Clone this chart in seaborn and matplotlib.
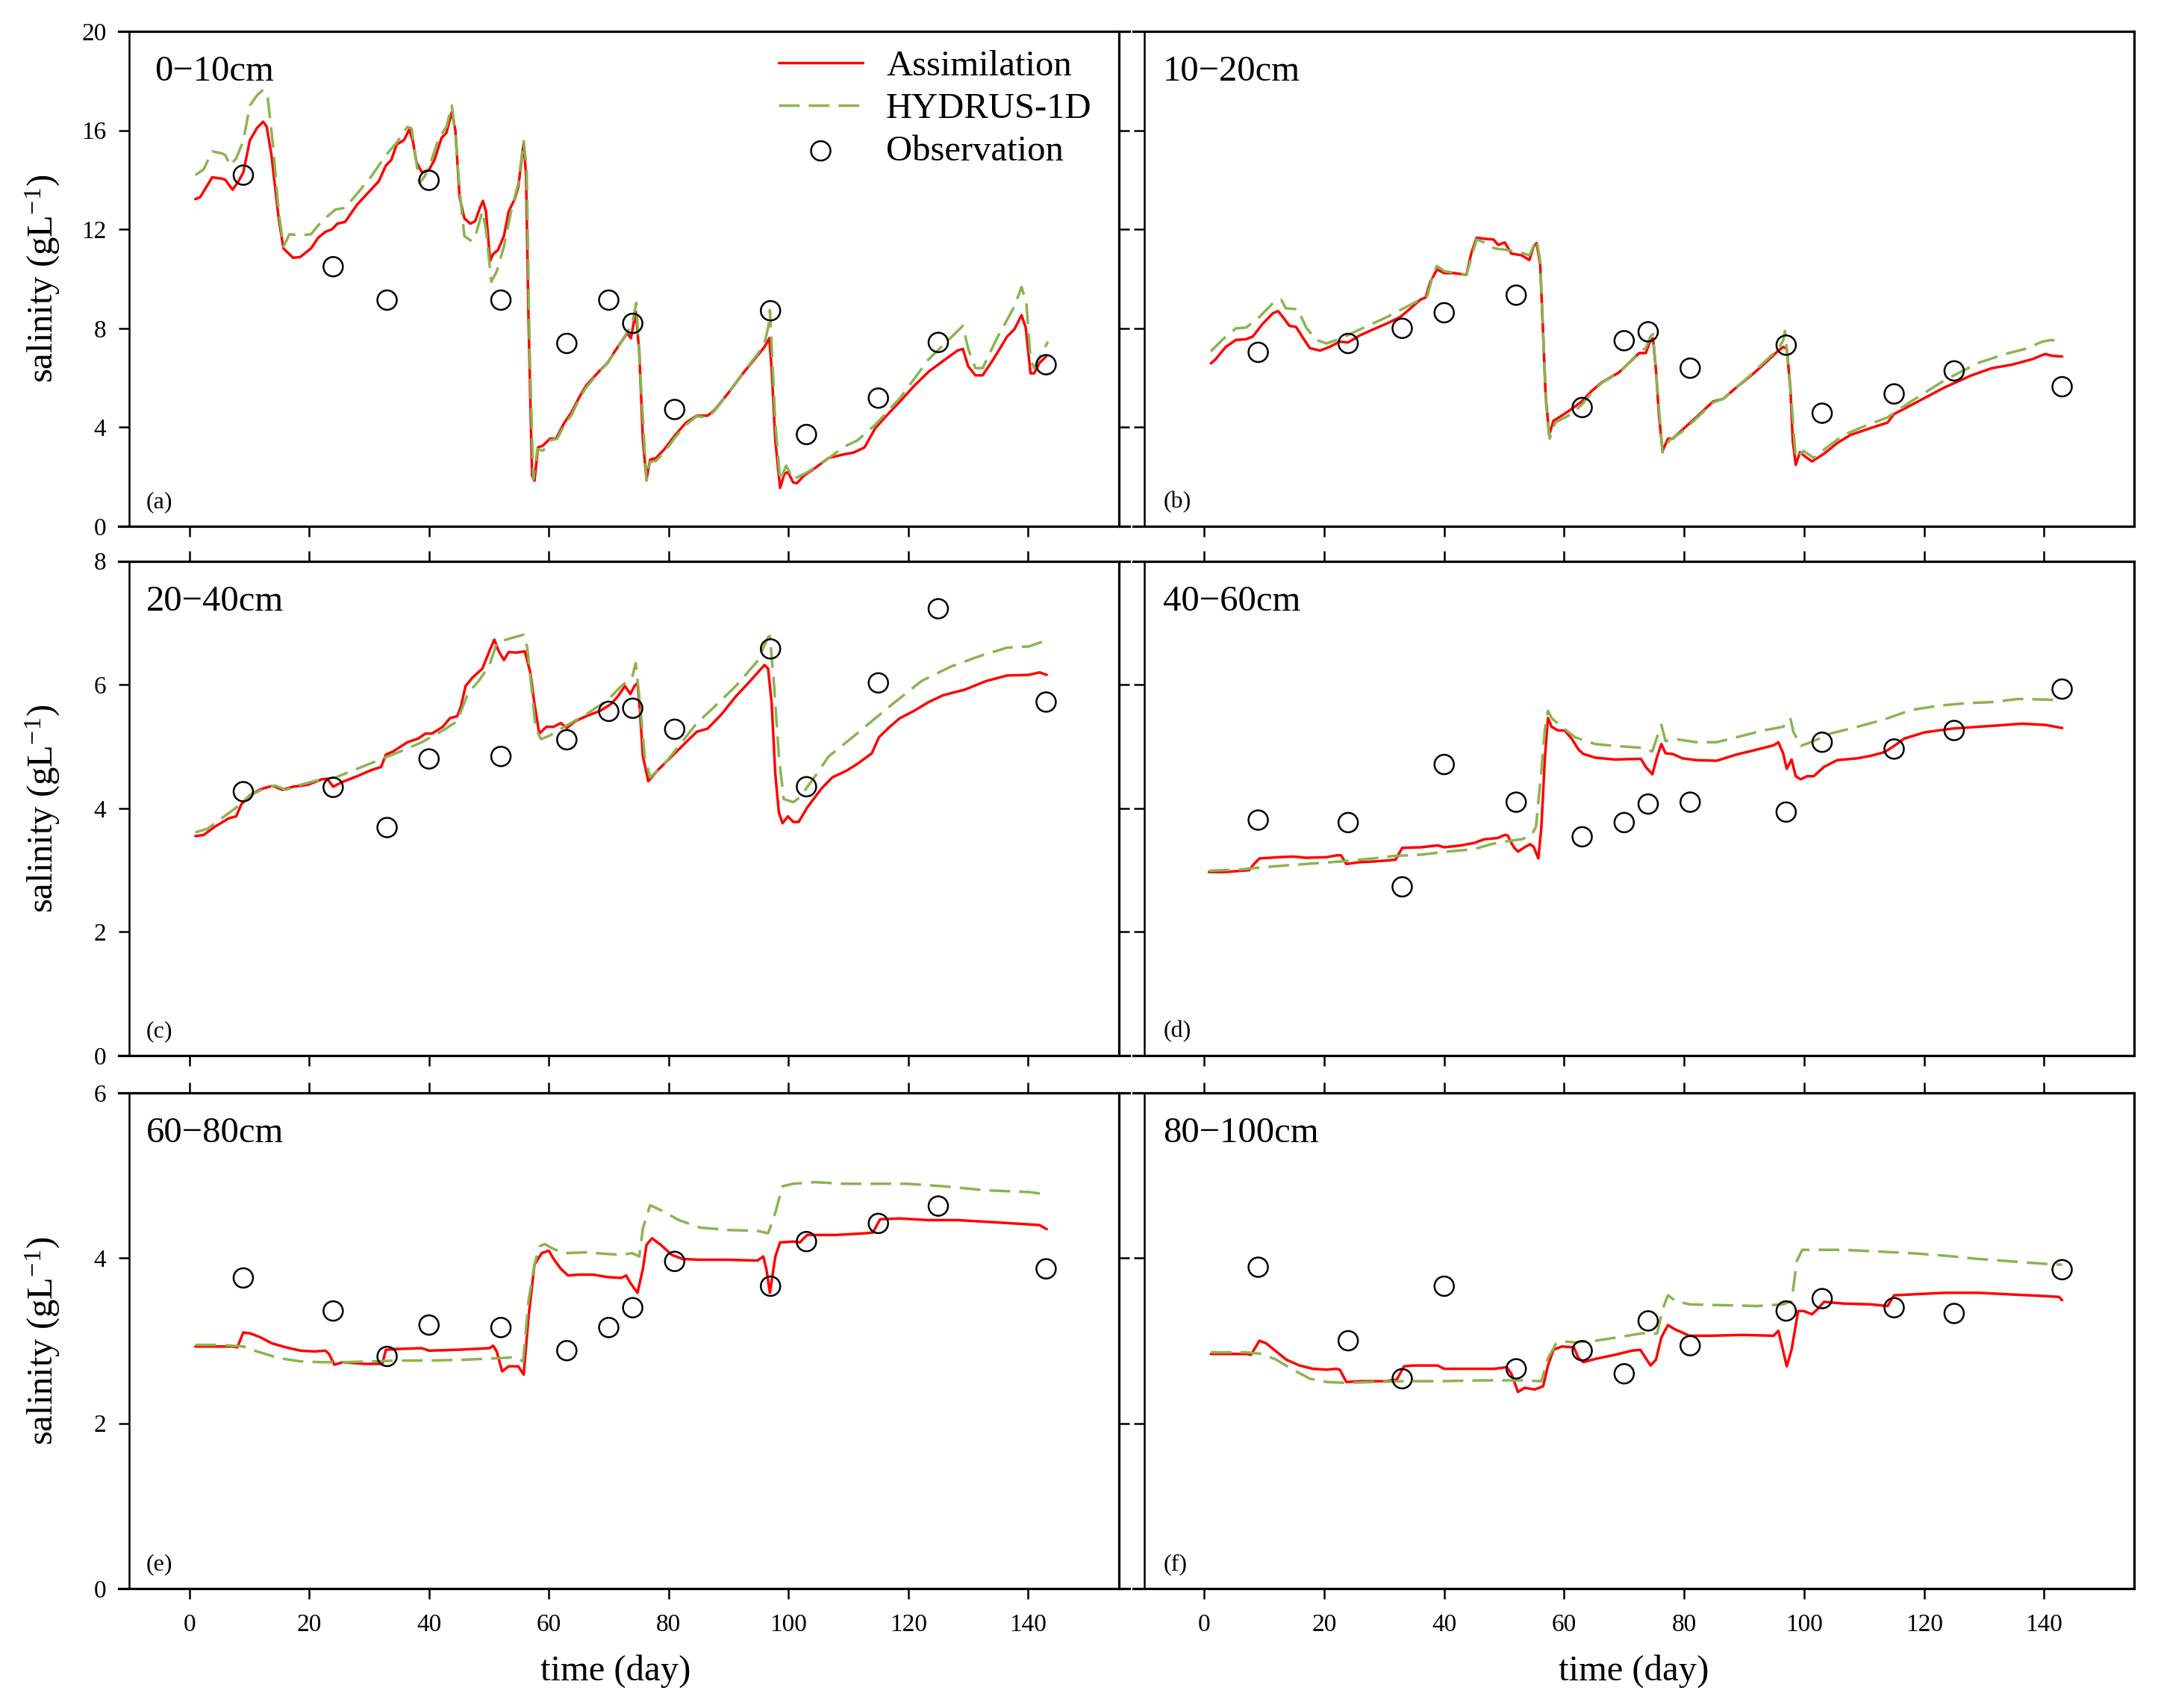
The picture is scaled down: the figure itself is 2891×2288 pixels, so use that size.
import matplotlib
matplotlib.use("Agg")
import matplotlib.pyplot as plt
import pandas as pd
import seaborn as sns

sns.set_theme(style="ticks")
plt.rcParams["font.family"] = ["Liberation Serif", "DejaVu Serif"]
plt.rcParams["mathtext.fontset"] = "custom"
plt.rcParams["mathtext.rm"] = "Liberation Serif"
plt.rcParams["mathtext.it"] = "Liberation Serif:italic"
plt.rcParams["mathtext.bf"] = "Liberation Serif:bold"
plt.rcParams["text.color"] = "black"
plt.rcParams["axes.labelcolor"] = "black"
plt.rcParams["xtick.color"] = "black"
plt.rcParams["ytick.color"] = "black"
plt.rcParams["axes.edgecolor"] = "black"

# ---------------- data ----------------
depths = ["0\u221210cm", "10\u221220cm", "20\u221240cm", "40\u221260cm", "60\u221280cm", "80\u2212100cm"]
panel_tags = ["(a)", "(b)", "(c)", "(d)", "(e)", "(f)"]
series_names = ["Assimilation", "HYDRUS-1D", "Observation"]
x_ticks = [0, 20, 40, 60, 80, 100, 120, 140]
y_ticks_rows = [[0, 4, 8, 12, 16, 20], [0, 2, 4, 6, 8], [0, 2, 4, 6]]

obs_day = [9, 24, 33, 40, 52, 63, 70, 74, 81, 97, 103, 115, 125, 143]
obs_a = [14.19, 10.49, 9.14, 13.98, 9.14, 7.39, 9.14, 8.2, 4.72, 8.71, 3.71, 5.18, 7.43, 6.53]
obs_b = [7.03, 7.39, 8.0, 8.63, 9.34, 4.8, 7.5, 7.86, 6.39, 7.32, 4.57, 5.35, 6.28, 5.64]
obs_c = [4.27, 4.34, 3.69, 4.8, 4.84, 5.11, 5.57, 5.62, 5.28, 6.58, 4.35, 6.03, 7.23, 5.72]
obs_d = [3.81, 3.77, 2.73, 4.71, 4.1, 3.54, 3.77, 4.07, 4.1, 3.94, 5.07, 4.96, 5.26, 5.93]
obs_e = [3.76, 3.36, 2.81, 3.19, 3.16, 2.88, 3.16, 3.4, 3.96, 3.66, 4.2, 4.42, 4.63, 3.87]
obs_f = [3.89, 3.0, 2.54, 3.66, 2.66, 2.88, 2.6, 3.24, 2.94, 3.36, 3.51, 3.4, 3.33, 3.86]

# (day, salinity) pairs
asm_a = [(1, 13.22), (1.8, 13.3), (3.8, 14.1), (5.4, 14.05), (6, 14.0), (7.2, 13.6), (8.1, 13.9), (9, 14.3),
         (10.1, 15.6), (11.3, 16.1), (12.3, 16.35), (12.9, 16.15), (13.7, 15.0), (14.9, 12.45), (15.7, 11.23),
         (17.3, 10.85), (18.5, 10.88), (20.3, 11.23), (21.5, 11.66), (22.7, 11.9), (23.8, 12.0), (24.7, 12.23),
         (26, 12.3), (28, 13.0), (31.6, 13.94), (32.8, 14.58), (33.7, 14.8), (34.6, 15.43), (35.8, 15.6),
         (36.7, 16.03), (37.3, 15.57), (37.9, 14.72), (38.8, 14.3), (40, 14.4), (40.9, 14.8), (42.1, 15.7),
         (42.9, 15.9), (43.8, 16.74), (44.4, 16.0), (45.1, 13.3), (45.9, 12.44), (46.9, 12.23), (47.7, 12.33),
         (48.5, 12.87), (49, 13.15), (49.5, 12.73), (50.2, 10.73), (50.7, 11.0), (51.5, 11.16), (52.5, 11.73),
         (53.3, 12.73), (54.3, 13.22), (54.9, 13.72), (55.8, 15.5), (56.2, 14.15), (56.6, 8.46), (57.2, 2.05),
         (57.6, 1.84), (58.2, 3.19), (59, 3.26), (60.2, 3.54), (61.2, 3.54), (62.6, 4.19), (63.8, 4.61),
         (65, 5.18), (66.2, 5.68), (68.6, 6.32), (69.8, 6.6), (70.9, 7.03), (72.1, 7.46), (73.1, 7.8),
         (73.7, 7.6), (74.5, 8.67), (75.1, 7.03), (75.7, 3.47), (76.3, 1.9), (76.9, 2.69), (77.9, 2.76),
         (79.3, 3.12), (81.1, 3.69), (82.9, 4.19), (84.7, 4.47), (86.5, 4.47), (87.6, 4.68), (90, 5.4),
         (92.4, 6.18), (94.8, 6.89), (96, 7.25), (96.8, 7.6), (97.2, 6.32), (97.8, 3.47), (98.6, 1.55),
         (99.3, 2.12), (99.9, 2.19), (100.8, 1.77), (101.4, 1.74), (102.6, 2.05), (104.3, 2.33), (106.7, 2.76),
         (109.1, 2.9), (110.9, 2.98), (112.7, 3.19), (114.5, 3.97), (116.9, 4.61), (118.6, 5.04), (121, 5.68),
         (123.4, 6.25), (125.8, 6.68), (128.2, 7.1), (129.1, 7.17), (130, 6.46), (131.2, 6.1), (132.4, 6.1),
         (134.2, 6.75), (136.5, 7.67), (137.7, 7.96), (138.9, 8.53), (139.6, 8.03), (140.4, 6.18), (141, 6.18),
         (141.9, 6.6), (143.1, 6.89)]
hyd_a = [(1, 14.19), (2.4, 14.43), (3.8, 15.15), (5.4, 15.07), (6, 15.0), (6.8, 14.58), (7.8, 14.86), (9, 15.57),
         (10.1, 17.0), (11.3, 17.42), (12.3, 17.64), (13.1, 17.28), (14, 15.29), (14.9, 12.73), (15.7, 11.3),
         (16.7, 11.8), (18.5, 11.76), (20.3, 11.8), (21.5, 12.16), (23.3, 12.58), (24.4, 12.8), (26, 12.87),
         (28, 13.44), (30.4, 14.15), (32.8, 15.0), (34.6, 15.5), (36.4, 16.14), (37.1, 16.07), (37.8, 14.86),
         (38.4, 13.86), (39.3, 14.15), (40.5, 14.86), (41.7, 15.72), (42.9, 16.14), (43.8, 17.0), (44.4, 15.86),
         (45.1, 13.58), (45.9, 11.73), (47.1, 11.52), (47.9, 11.87), (48.9, 12.73), (49.5, 12.0), (50.4, 9.88),
         (51.3, 10.3), (52.5, 11.3), (53.7, 12.73), (54.9, 13.86), (55.8, 15.57), (56.3, 14.43), (56.8, 7.03),
         (57.4, 1.9), (58.1, 3.12), (59, 3.05), (60.2, 3.47), (61.4, 3.54), (62.6, 4.1), (63.8, 4.5), (65, 5.1),
         (66.2, 5.6), (68.6, 6.3), (69.8, 6.6), (70.9, 7.0), (72.1, 7.45), (73.1, 7.85), (73.9, 8.17),
         (74.6, 9.03), (75.4, 5.6), (76.3, 1.84), (76.9, 2.6), (77.9, 2.65), (79.3, 3.0), (81.1, 3.6),
         (82.9, 4.1), (84.7, 4.45), (86.5, 4.4), (87.6, 4.65), (90, 5.4), (92.4, 6.2), (94.8, 6.95), (96, 7.4),
         (96.6, 8.03), (96.9, 8.74), (97.8, 4.19), (98.6, 1.84), (99.6, 2.45), (100.8, 1.9), (103.2, 2.19),
         (106.7, 2.75), (109.1, 3.19), (111.5, 3.47), (114.5, 4.11), (118.6, 5.18), (123.4, 6.75), (127, 7.6),
         (129.1, 8.1), (130, 7.17), (131.2, 6.39), (132.4, 6.39), (134.8, 7.6), (137.7, 8.88), (138.9, 9.67),
         (139.7, 9.03), (140.4, 6.75), (141, 6.39), (143.3, 7.46)]

asm_b = [(1.1, 6.58), (1.9, 6.75), (3.6, 7.25), (5.3, 7.53), (7, 7.56), (8.1, 7.67), (9.7, 8.17), (11.4, 8.6),
         (12.3, 8.7), (13.1, 8.46), (14.2, 8.1), (15.3, 8.06), (16.5, 7.6), (17.6, 7.2), (19.3, 7.1), (20.9, 7.25),
         (22.6, 7.46), (24, 7.43), (26, 7.72), (28.2, 7.96), (30.5, 8.2), (32.7, 8.46), (34.4, 8.81), (36.1, 9.17),
         (36.9, 9.24), (37.7, 9.88), (38.8, 10.38), (40, 10.23), (41.7, 10.23), (43.7, 10.16), (44.5, 11.02),
         (45.4, 11.66), (46.7, 11.62), (48.2, 11.59), (49, 11.37), (50.1, 11.47), (51.2, 11.02), (52.9, 10.95),
         (54.2, 10.76), (54.9, 11.3), (55.4, 11.44), (56, 10.59), (56.5, 7.74), (56.9, 5.32), (57.5, 3.69),
         (58.2, 4.26), (59.6, 4.47), (61.3, 4.75), (62.9, 5.04), (64.6, 5.47), (66.3, 5.82), (69.1, 6.21),
         (70.8, 6.6), (72.5, 7.0), (73.6, 7.0), (74.4, 7.53), (74.8, 7.6), (75.3, 6.32), (75.8, 4.47), (76.4, 3.05),
         (77.3, 3.54), (78.1, 3.54), (79.7, 3.9), (82, 4.4), (84.8, 5.04), (86.5, 5.15), (88.7, 5.61), (91, 6.06),
         (93.2, 6.53), (95.4, 7.03), (96.5, 7.25), (97.1, 7.17), (97.7, 5.61), (98.1, 3.47), (98.6, 2.48),
         (99.3, 3.0), (100.1, 2.83), (101.3, 2.62), (103.3, 2.93), (105.5, 3.36), (107.7, 3.69), (111.1, 3.97),
         (113.9, 4.19), (115, 4.54), (116.7, 4.75), (119.5, 5.11), (123.4, 5.61), (127.9, 6.1), (131.3, 6.39),
         (134.6, 6.53), (138, 6.75), (139.7, 6.92), (140.2, 6.96), (141.3, 6.89), (143, 6.86)]
hyd_b = [(1.1, 7.07), (3, 7.53), (5.3, 8.0), (7, 8.03), (9.2, 8.46), (11.4, 9.0), (12.8, 9.17), (13.6, 8.81),
         (15.6, 8.77), (17, 8.03), (18.7, 7.53), (20.4, 7.39), (22.6, 7.57), (26, 7.96), (30.5, 8.46), (33.8, 8.88),
         (36.1, 9.17), (37.2, 9.31), (38.3, 10.31), (38.8, 10.52), (40, 10.31), (43.7, 10.16), (45.4, 11.59),
         (46.7, 11.47), (48.4, 11.23), (50.6, 11.16), (52.9, 11.05), (54.2, 10.95), (55.4, 11.59), (56, 10.73),
         (56.5, 7.74), (57, 4.9), (57.6, 3.54), (58.5, 4.19), (60.7, 4.47), (62.9, 4.9), (64.6, 5.4), (66.3, 5.8),
         (69.1, 6.2), (70.8, 6.6), (72.5, 7.05), (73.6, 7.2), (74.4, 7.67), (74.8, 7.77), (76.4, 2.98),
         (77.5, 3.47), (79.7, 3.83), (82, 4.35), (84.8, 5.0), (86.5, 5.15), (88.7, 5.6), (91, 6.1), (93.2, 6.6),
         (95.4, 7.1), (96.5, 7.5), (96.8, 7.89), (97.7, 5.61), (98.6, 2.76), (99.9, 3.05), (101.6, 2.76),
         (103.8, 3.19), (106.6, 3.69), (110, 4.04), (113.9, 4.4), (117.8, 5.04), (123.4, 5.9), (129, 6.6),
         (133.5, 6.96), (136.9, 7.17), (139.7, 7.46), (141.3, 7.53), (142.4, 7.46)]

asm_c = [(1, 3.55), (2.4, 3.57), (4.2, 3.7), (6.6, 3.84), (7.8, 3.87), (8.7, 4.07), (10.1, 4.21), (11.9, 4.31),
         (13.7, 4.36), (14.3, 4.35), (15.5, 4.3), (17.3, 4.35), (19.7, 4.38), (22.1, 4.47), (23, 4.48), (24, 4.35),
         (25.6, 4.43), (28, 4.52), (30.4, 4.62), (32, 4.67), (32.8, 4.87), (34, 4.92), (36.4, 5.07), (38.2, 5.13),
         (39.4, 5.21), (40.5, 5.21), (42.3, 5.32), (43.5, 5.46), (44.7, 5.49), (45.3, 5.64), (46.1, 5.98),
         (47.3, 6.12), (48.9, 6.26), (50.1, 6.55), (50.9, 6.73), (51.6, 6.55), (52.5, 6.4), (53.3, 6.53),
         (54.5, 6.52), (56, 6.54), (56.9, 6.2), (57.6, 5.69), (58.4, 5.21), (59.6, 5.32), (60.8, 5.32), (62, 5.38),
         (63, 5.3), (64.4, 5.41), (66.2, 5.49), (68.6, 5.58), (70.4, 5.69), (71.5, 5.81), (72.7, 5.98), (73.6, 5.85),
         (74.3, 5.98), (74.8, 6.03), (75.2, 5.58), (75.7, 4.84), (76.6, 4.44), (78.1, 4.61), (80.5, 4.84),
         (82.9, 5.07), (84.7, 5.24), (86.5, 5.29), (88.8, 5.52), (91.2, 5.81), (93.6, 6.06), (96, 6.32),
         (96.6, 6.26), (97.2, 5.69), (97.8, 4.55), (98.4, 3.93), (99, 3.76), (99.9, 3.87), (100.8, 3.78),
         (101.7, 3.78), (103.1, 4.01), (105.5, 4.32), (107.3, 4.5), (109.7, 4.61), (111.5, 4.72), (113.9, 4.89),
         (115.1, 5.15), (116.9, 5.32), (118.6, 5.46), (121, 5.58), (123.4, 5.72), (125.8, 5.83), (129.4, 5.92),
         (133, 6.06), (136.5, 6.15), (140.1, 6.16), (141.9, 6.2), (143.1, 6.16)]
hyd_c = [(1, 3.61), (3, 3.67), (5.4, 3.84), (7.8, 4.01), (10.1, 4.21), (12.5, 4.32), (14.3, 4.37), (16.1, 4.3),
         (18.5, 4.38), (22.1, 4.47), (24.4, 4.5), (28, 4.64), (31.6, 4.78), (35.2, 4.92), (38.8, 5.07), (42.3, 5.26),
         (44.7, 5.41), (46.5, 5.86), (48.3, 6.06), (50.1, 6.32), (51.3, 6.67), (52.5, 6.72), (54.3, 6.77),
         (55.8, 6.81), (56.4, 6.6), (57.2, 5.86), (57.8, 5.29), (58.7, 5.12), (60.2, 5.18), (62.6, 5.32),
         (66.2, 5.52), (69.8, 5.75), (72.1, 5.98), (73.9, 6.12), (74.5, 6.35), (75.1, 5.81), (76, 4.84), (76.9, 4.5),
         (79.3, 4.72), (81.7, 5.01), (84.7, 5.38), (87.6, 5.64), (91.2, 5.98), (94.8, 6.38), (96.6, 6.77),
         (96.9, 6.79), (97.6, 5.98), (98.4, 4.84), (99.2, 4.15), (100.8, 4.1), (101.9, 4.18), (104.3, 4.5),
         (106.7, 4.84), (110.3, 5.12), (113.9, 5.41), (117.4, 5.69), (122.2, 6.06), (127, 6.29), (131.8, 6.46),
         (136.5, 6.6), (140.1, 6.62), (143.1, 6.72)]

asm_d = [(0.8, 2.97), (3.6, 2.97), (7.5, 3.0), (8.3, 3.1), (9.2, 3.19), (12.5, 3.21), (14.8, 3.22), (17, 3.2),
         (20.4, 3.21), (22.1, 3.24), (22.8, 3.24), (23.7, 3.1), (26, 3.13), (28.2, 3.14), (31, 3.16), (31.9, 3.17),
         (33, 3.36), (36.1, 3.37), (38.9, 3.4), (40, 3.37), (42.8, 3.4), (45, 3.44), (46.7, 3.5), (48.9, 3.52),
         (50.1, 3.57), (50.6, 3.56), (51.2, 3.44), (51.7, 3.36), (52.3, 3.3), (53.4, 3.37), (54.3, 3.42),
         (54.9, 3.38), (55.7, 3.19), (56.2, 3.7), (56.8, 4.84), (57.3, 5.46), (57.9, 5.32), (59, 5.26), (60.1, 5.26),
         (61.3, 5.12), (62.4, 4.95), (63.2, 4.88), (65.2, 4.82), (68.5, 4.79), (71.9, 4.8), (72.8, 4.8), (73.6, 4.67),
         (74.7, 4.55), (75.5, 4.84), (76.2, 5.04), (76.9, 4.89), (78.1, 4.88), (79.7, 4.81), (82, 4.78), (85.4, 4.77),
         (88.7, 4.87), (92.1, 4.95), (94.9, 5.02), (95.7, 5.07), (96.5, 4.89), (97.1, 4.64), (97.9, 4.79),
         (98.6, 4.52), (99.4, 4.47), (100.5, 4.52), (101.6, 4.52), (103.3, 4.67), (105.5, 4.78), (108.9, 4.81),
         (111.1, 4.85), (113.4, 4.91), (115, 5.01), (116.7, 5.13), (120.1, 5.23), (124.6, 5.29), (129, 5.32),
         (133.5, 5.35), (136.3, 5.37), (140.2, 5.35), (143, 5.3)]
hyd_d = [(0.8, 2.99), (5.8, 3.01), (11.4, 3.06), (17, 3.1), (22.6, 3.14), (28.2, 3.19), (31.6, 3.23), (36.1, 3.25),
         (40.5, 3.3), (45, 3.34), (47.8, 3.42), (50.6, 3.47), (52.9, 3.5), (54.5, 3.56), (55.3, 3.7), (56.2, 4.61),
         (56.8, 5.29), (57.3, 5.58), (57.9, 5.46), (59.6, 5.32), (61.8, 5.15), (65.2, 5.04), (68.5, 5.01), (73, 4.98),
         (74.7, 4.92), (75.2, 5.07), (76.2, 5.35), (76.9, 5.09), (78.6, 5.12), (82, 5.07), (85.4, 5.07),
         (88.7, 5.15), (93.2, 5.26), (96.5, 5.32), (97.7, 5.46), (98.2, 5.24), (99.4, 5.01), (101.1, 5.07),
         (104.4, 5.21), (108.9, 5.32), (113.4, 5.44), (117.8, 5.59), (122.3, 5.66), (126.8, 5.7), (131.3, 5.72),
         (135.8, 5.77), (140.2, 5.76), (143, 5.75)]

asm_e = [(1, 2.93), (7.2, 2.93), (8, 2.92), (9, 3.1), (10.1, 3.09), (11.9, 3.04), (13.7, 2.97), (16.1, 2.92),
         (18.5, 2.88), (20.9, 2.87), (22.7, 2.88), (23.3, 2.84), (24.2, 2.71), (25.6, 2.74), (29.2, 2.72),
         (32.2, 2.72), (32.8, 2.89), (34.6, 2.9), (38.8, 2.91), (40, 2.88), (44.7, 2.89), (50.1, 2.91), (50.7, 2.94),
         (51.3, 2.87), (52.2, 2.63), (53.3, 2.69), (54.9, 2.69), (55.8, 2.59), (56.6, 3.28), (57.6, 3.92),
         (58.8, 4.06), (60, 4.09), (60.8, 3.99), (62, 3.87), (63.2, 3.79), (65, 3.8), (67.4, 3.8), (69.8, 3.77),
         (72.1, 3.76), (72.9, 3.79), (73.6, 3.7), (74.8, 3.58), (75.7, 3.87), (76.3, 4.16), (77.2, 4.24),
         (78.7, 4.16), (80.5, 4.04), (82.3, 3.99), (85.2, 3.98), (90, 3.98), (94.8, 3.97), (95.8, 4.02),
         (96.3, 3.87), (96.9, 3.58), (97.8, 4.02), (98.6, 4.19), (100.8, 4.2), (101.9, 4.19), (103.1, 4.28),
         (107.9, 4.28), (112.7, 4.3), (114.1, 4.31), (115.3, 4.47), (118.6, 4.48), (123.4, 4.46), (128.2, 4.46),
         (135.3, 4.43), (141.9, 4.4), (143.1, 4.35)]
hyd_e = [(1, 2.95), (5.4, 2.95), (9, 2.93), (11.3, 2.87), (14.9, 2.79), (18.5, 2.75), (22.1, 2.74), (25.6, 2.74),
         (30.4, 2.75), (35.2, 2.76), (40, 2.76), (45.9, 2.77), (51.9, 2.79), (54.5, 2.8), (55.7, 2.75), (56.6, 3.48),
         (57.6, 3.92), (58.4, 4.14), (59.3, 4.17), (60.8, 4.11), (62.6, 4.06), (66.2, 4.07), (69.8, 4.05),
         (72.1, 4.04), (73.9, 4.06), (75.1, 4.02), (75.7, 4.36), (76.9, 4.64), (78.7, 4.58), (81.7, 4.46),
         (85.2, 4.37), (90, 4.34), (94.8, 4.33), (96.6, 4.3), (97.8, 4.55), (99, 4.87), (100.8, 4.9), (104.3, 4.92),
         (109.1, 4.9), (115, 4.9), (119.8, 4.9), (125.8, 4.87), (133, 4.82), (140.1, 4.8), (143.1, 4.77)]

asm_f = [(1.1, 2.84), (7, 2.84), (7.8, 2.83), (9.2, 3.0), (10.3, 2.97), (12, 2.87), (13.7, 2.77), (15.9, 2.7),
         (18.1, 2.66), (20.4, 2.65), (22, 2.66), (22.6, 2.65), (23.7, 2.5), (26, 2.51), (30.5, 2.51), (32.1, 2.53),
         (33.3, 2.69), (34.9, 2.7), (38.9, 2.7), (40, 2.66), (43.9, 2.66), (48.4, 2.66), (50.4, 2.68), (51.2, 2.6),
         (52.3, 2.38), (53.4, 2.43), (55.1, 2.41), (56.5, 2.45), (57.3, 2.7), (58.2, 2.89), (59.6, 2.93),
         (61.6, 2.92), (62.4, 2.79), (63.2, 2.74), (65.2, 2.78), (68.5, 2.83), (71.3, 2.88), (72.7, 2.89),
         (73.6, 2.79), (74.4, 2.7), (75.3, 2.77), (76.2, 3.04), (77.3, 3.19), (78.4, 3.14), (80.9, 3.06),
         (84.2, 3.06), (89.8, 3.07), (94.9, 3.06), (95.7, 3.12), (96.3, 2.94), (97.1, 2.69), (97.9, 2.89),
         (99, 3.36), (99.9, 3.36), (101.3, 3.32), (102.2, 3.38), (103.3, 3.47), (106.6, 3.45), (111.1, 3.44),
         (113.9, 3.42), (115, 3.55), (117.8, 3.56), (123.4, 3.58), (129, 3.58), (134.6, 3.56), (140.2, 3.54),
         (142.5, 3.53), (143, 3.49)]
hyd_f = [(1.1, 2.86), (7, 2.86), (9.7, 2.84), (12, 2.77), (14.8, 2.65), (17.6, 2.54), (20.4, 2.5), (23.7, 2.49),
         (28.2, 2.5), (33.8, 2.51), (39.4, 2.51), (46.1, 2.52), (52.9, 2.52), (56.2, 2.51), (57.3, 2.79),
         (58.7, 2.97), (60.1, 2.99), (61.8, 2.98), (65.2, 3.0), (69.7, 3.05), (73, 3.09), (74.7, 3.08), (75.5, 3.09),
         (76.4, 3.38), (77.3, 3.55), (78.6, 3.48), (80.9, 3.44), (86.5, 3.43), (92.1, 3.42), (96.5, 3.44),
         (97.9, 3.48), (98.8, 3.97), (99.7, 4.1), (102.2, 4.1), (106.6, 4.1), (112.2, 4.08), (117.8, 4.06),
         (123.4, 4.03), (129, 3.99), (134.6, 3.96), (140.2, 3.93), (143, 3.92)]

asm_all = [asm_a, asm_b, asm_c, asm_d, asm_e, asm_f]
hyd_all = [hyd_a, hyd_b, hyd_c, hyd_d, hyd_e, hyd_f]
obs_all = [obs_a, obs_b, obs_c, obs_d, obs_e, obs_f]

# ---------------- style ----------------
RED = "#FF0000"
GREEN = "#8AB450"
W, H = 2891, 2288
fig = plt.figure(figsize=(W / 100, H / 100), dpi=100)

col_px = [(159, 1513), (1518, 2859)]
row_px = [(42, 705), (751.7, 1414), (1464, 2128)]
col_xlim = [(-11.8, 156.9), (-11.85, 155.0)]
col_spine_left = [14 / 1354, 15 / 1341]

for i in range(6):
    r, c = divmod(i, 2)
    x0, x1 = col_px[c]
    y0, y1 = row_px[r]
    ax = fig.add_axes([x0 / W, 1 - y1 / H, (x1 - x0) / W, (y1 - y0) / H])

    a = pd.DataFrame(asm_all[i], columns=["day", "val"])
    h = pd.DataFrame(hyd_all[i], columns=["day", "val"])
    o = pd.DataFrame({"day": obs_day, "val": obs_all[i]})

    sns.lineplot(data=a, x="day", y="val", ax=ax, color=RED, linewidth=2.5, sort=False,
                 estimator=None, legend=False, label=series_names[0], zorder=3)
    sns.lineplot(data=h, x="day", y="val", ax=ax, color=GREEN, linewidth=2.5, sort=False,
                 estimator=None, legend=False, label=series_names[1], zorder=4,
                 linestyle=(0, (8, 3.5)))
    sns.scatterplot(data=o, x="day", y="val", ax=ax, marker="o", s=350, facecolor="none",
                    edgecolor="black", linewidth=1.8, legend=False, label=series_names[2], zorder=5)

    ax.set_xlim(*col_xlim[c])
    ax.set_ylim(0, y_ticks_rows[r][-1])
    ax.set_xticks(x_ticks)
    ax.set_yticks(y_ticks_rows[r])
    ax.set_xlabel("")
    ax.set_ylabel("")
    for s in ["top", "bottom", "left", "right"]:
        ax.spines[s].set_color("black")
    ax.spines["top"].set_linewidth(2.3)
    ax.spines["bottom"].set_linewidth(2.3)
    ax.spines["left"].set_linewidth(1.8)
    ax.spines["right"].set_linewidth(2.3)
    ax.spines["left"].set_position(("axes", col_spine_left[c]))
    if c == 0:
        ax.spines["right"].set_position(("axes", 1 - 14 / 1354))
    ax.tick_params(axis="both", direction="out", length=10, width=1.8, labelsize=24)
    ax.tick_params(axis="x", bottom=True, top=(r > 0), labelbottom=(r == 2), labeltop=False, pad=14)
    ax.tick_params(axis="y", left=True, right=(c == 0), labelleft=(c == 0), labelright=False, pad=12)

    ax.text(0.0355 if (c == 0 and r == 0) else (0.027 if c == 0 else 0.030), 0.9, depths[i],
            transform=ax.transAxes, fontsize=35, va="baseline", ha="left")
    ax.text(0.0273 if c == 0 else 0.0306, 0.038, panel_tags[i], transform=ax.transAxes,
            fontsize=23, va="baseline", ha="left")

    if c == 0:
        ax.set_ylabel("salinity (gL$^{-1}$)", fontsize=35)
        ax.yaxis.set_label_coords(-0.056, 0.5)
    if r == 2:
        ax.set_xlabel("time (day)", fontsize=35)
        ax.xaxis.set_label_coords(0.492 if c == 0 else 0.500, -0.133)

    if i == 0:
        ax.legend(loc="upper left", bbox_to_anchor=(0.653, 0.963), frameon=False, fontsize=35,
                  handlelength=2.32, handletextpad=0.64, labelspacing=0.27, borderpad=0,
                  borderaxespad=0, scatterpoints=1)

fig.savefig("out.png", dpi=100, facecolor="white")
